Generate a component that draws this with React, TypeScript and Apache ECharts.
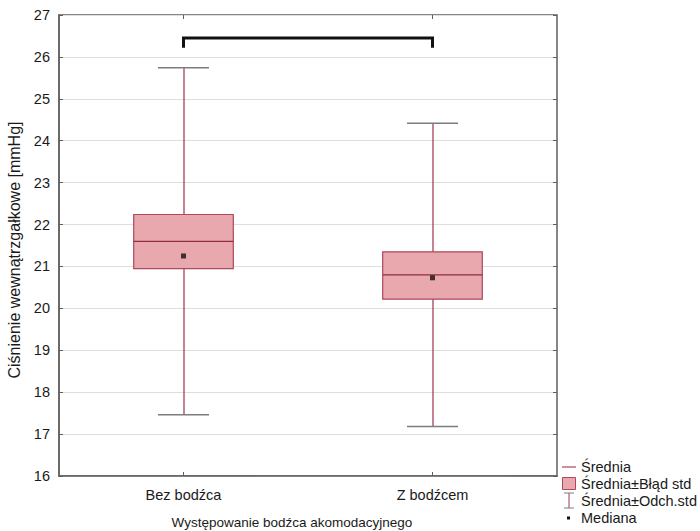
import React, { useEffect, useRef } from "react";
import * as echarts from "echarts";

const categories = ["Bez bodźca", "Z bodźcem"];
const means = [21.6, 20.8];
const seLow = [20.95, 20.22];
const seHigh = [22.24, 21.35];
const sdLow = [17.46, 17.18];
const sdHigh = [25.74, 24.42];
const medians = [21.25, 20.73];
const yMin = 16;
const yMax = 27;
const yStep = 1;
// significance bracket: [from category, to category, top value, leg end value]
const bracket = [0, 1, 26.45, 26.22];

const FONT = "'Liberation Sans', Arial, Helvetica, sans-serif";
const TEXT = "#1a1a1a";
const AXIS = "#606060";

export default function App() {
  const ref = useRef<HTMLDivElement>(null);
  useEffect(() => {
    if (!ref.current) return;
    const chart = echarts.init(ref.current, undefined, { renderer: "svg" });

    const whiskerData = categories.map((_, i) => [i, sdLow[i], sdHigh[i]]);
    const boxData = categories.map((_, i) => [i, seLow[i], seHigh[i]]);
    const meanData = categories.map((_, i) => [i, means[i]]);
    const medianData = categories.map((_, i) => [i, medians[i]]);

    const legendX = 562;
    const rows = [467, 484, 501, 518];
    const legendText = (t: string, y: number) => ({
      type: "text",
      left: legendX + 19,
      top: y - 8,
      style: { text: t, font: `14.5px ${FONT}`, fill: TEXT },
    });

    const option: any = {
      animation: false,
      backgroundColor: "#ffffff",
      textStyle: { fontFamily: FONT },
      grid: {
        left: 59,
        top: 15,
        right: 143,
        bottom: 55,
        show: true,
        borderColor: AXIS,
        borderWidth: 1.5,
        backgroundColor: "transparent",
        containLabel: false,
        outerBoundsMode: "none",
      },
      xAxis: [
        {
          type: "category",
          data: categories,
          boundaryGap: true,
          axisLine: { show: true, lineStyle: { color: AXIS, width: 1.5 } },
          axisTick: { show: true, inside: true, alignWithLabel: true, length: 4, lineStyle: { color: AXIS } },
          axisLabel: { color: TEXT, fontSize: 14.5, margin: 11, fontFamily: FONT },
          splitLine: { show: false },
          name: "Występowanie bodźca akomodacyjnego",
          nameLocation: "middle",
          nameGap: 39,
          nameTextStyle: { color: TEXT, fontSize: 13.5, fontFamily: FONT, padding: [0, 32, 0, 0] },
        },
        {
          type: "category",
          data: categories,
          position: "top",
          boundaryGap: true,
          axisLine: { show: false },
          axisTick: { show: true, inside: true, alignWithLabel: true, length: 4, lineStyle: { color: AXIS } },
          axisLabel: { show: false },
          splitLine: { show: false },
        },
      ],
      yAxis: [
        {
          type: "value",
          min: yMin,
          max: yMax,
          interval: yStep,
          axisLine: { show: true, lineStyle: { color: AXIS, width: 1.5 } },
          axisTick: { show: true, inside: true, length: 4, lineStyle: { color: AXIS } },
          axisLabel: { color: TEXT, fontSize: 14.5, margin: 9, fontFamily: FONT },
          splitLine: { show: true, lineStyle: { color: "#dedede", width: 1 } },
          name: "Ciśnienie wewnątrzgałkowe [mmHg]",
          nameLocation: "middle",
          nameGap: 36,
          nameTextStyle: { color: TEXT, fontSize: 16, fontFamily: FONT, padding: [0, 9, 0, 0] },
        },
        {
          type: "value",
          min: yMin,
          max: yMax,
          interval: yStep,
          position: "right",
          axisLine: { show: false },
          axisTick: { show: true, inside: true, length: 4, lineStyle: { color: AXIS } },
          axisLabel: { show: false },
          splitLine: { show: false },
        },
      ],
      series: [
        {
          name: "Średnia±Odch.std",
          type: "custom",
          data: whiskerData,
          encode: { x: 0, y: [1, 2] },
          z: 2,
          renderItem: (params: any, api: any) => {
            const i = api.value(0);
            const lo = api.coord([i, api.value(1)]);
            const hi = api.coord([i, api.value(2)]);
            const bw = api.size([1, 0])[0];
            const cap = bw * 0.205;
            return {
              type: "group",
              children: [
                {
                  type: "rect",
                  shape: { x: Math.round(lo[0]) - 0.6, y: hi[1], width: 1.2, height: lo[1] - hi[1] },
                  style: { fill: "#9e3148" },
                },
                { type: "line", shape: { x1: lo[0] - cap / 2, y1: lo[1], x2: lo[0] + cap / 2, y2: lo[1] }, style: { stroke: "#7d7d7d", lineWidth: 1.5 } },
                { type: "line", shape: { x1: hi[0] - cap / 2, y1: hi[1], x2: hi[0] + cap / 2, y2: hi[1] }, style: { stroke: "#7d7d7d", lineWidth: 1.5 } },
              ],
            };
          },
        },
        {
          name: "Średnia±Błąd std",
          type: "custom",
          data: boxData,
          encode: { x: 0, y: [1, 2] },
          z: 3,
          renderItem: (params: any, api: any) => {
            const i = api.value(0);
            const lo = api.coord([i, api.value(1)]);
            const hi = api.coord([i, api.value(2)]);
            const bw = api.size([1, 0])[0];
            const w = bw * 0.4;
            return {
              type: "rect",
              shape: { x: lo[0] - w / 2, y: hi[1], width: w, height: lo[1] - hi[1] },
              style: { fill: "#e8a8ae", stroke: "#b0475c", lineWidth: 1.2 },
            };
          },
        },
        {
          name: "Średnia",
          type: "custom",
          data: meanData,
          encode: { x: 0, y: 1 },
          z: 4,
          renderItem: (params: any, api: any) => {
            const i = api.value(0);
            const p = api.coord([i, api.value(1)]);
            const bw = api.size([1, 0])[0];
            const w = bw * 0.4;
            return {
              type: "line",
              shape: { x1: p[0] - w / 2, y1: p[1], x2: p[0] + w / 2, y2: p[1] },
              style: { stroke: "#8e2c40", lineWidth: 1.2 },
            };
          },
        },
        {
          name: "Mediana",
          type: "scatter",
          data: medianData,
          symbol: "rect",
          symbolSize: 5,
          itemStyle: { color: "#111111" },
          z: 5,
        },
        {
          name: "bracket",
          type: "custom",
          data: [bracket],
          encode: { x: [0, 1], y: [2, 3] },
          z: 6,
          renderItem: (params: any, api: any) => {
            const a = api.coord([api.value(0), api.value(3)]);
            const b = api.coord([api.value(0), api.value(2)]);
            const c = api.coord([api.value(1), api.value(2)]);
            const d = api.coord([api.value(1), api.value(3)]);
            return {
              type: "polyline",
              shape: { points: [a, b, c, d] },
              style: { stroke: "#111111", lineWidth: 3, fill: null, lineJoin: "miter" },
            };
          },
        },
      ],
      graphic: [
        { type: "line", shape: { x1: legendX, y1: rows[0], x2: legendX + 14, y2: rows[0] }, style: { stroke: "#b0475c", lineWidth: 1.2 } },
        legendText("Średnia", rows[0]),
        { type: "rect", shape: { x: legendX + 0.5, y: rows[1] - 6.5, width: 13, height: 12 }, style: { fill: "#e8a8ae", stroke: "#b0475c", lineWidth: 1 } },
        legendText("Średnia±Błąd std", rows[1]),
        { type: "line", shape: { x1: legendX + 7, y1: rows[2] - 8, x2: legendX + 7, y2: rows[2] + 7 }, style: { stroke: "#a0394f", lineWidth: 1 } },
        { type: "line", shape: { x1: legendX + 2, y1: rows[2] - 8, x2: legendX + 12, y2: rows[2] - 8 }, style: { stroke: "#7d7d7d", lineWidth: 1 } },
        { type: "line", shape: { x1: legendX + 2, y1: rows[2] + 7, x2: legendX + 12, y2: rows[2] + 7 }, style: { stroke: "#7d7d7d", lineWidth: 1 } },
        legendText("Średnia±Odch.std", rows[2]),
        { type: "rect", shape: { x: legendX + 5, y: rows[3] - 1.5, width: 3, height: 3 }, style: { fill: "#111111" } },
        legendText("Mediana", rows[3]),
      ],
    };

    chart.setOption(option);
    return () => chart.dispose();
  }, []);

  return (
    <div
      ref={ref}
      style={{ position: "fixed", left: 0, top: 0, width: 700, height: 531, background: "#fff" }}
    />
  );
}
